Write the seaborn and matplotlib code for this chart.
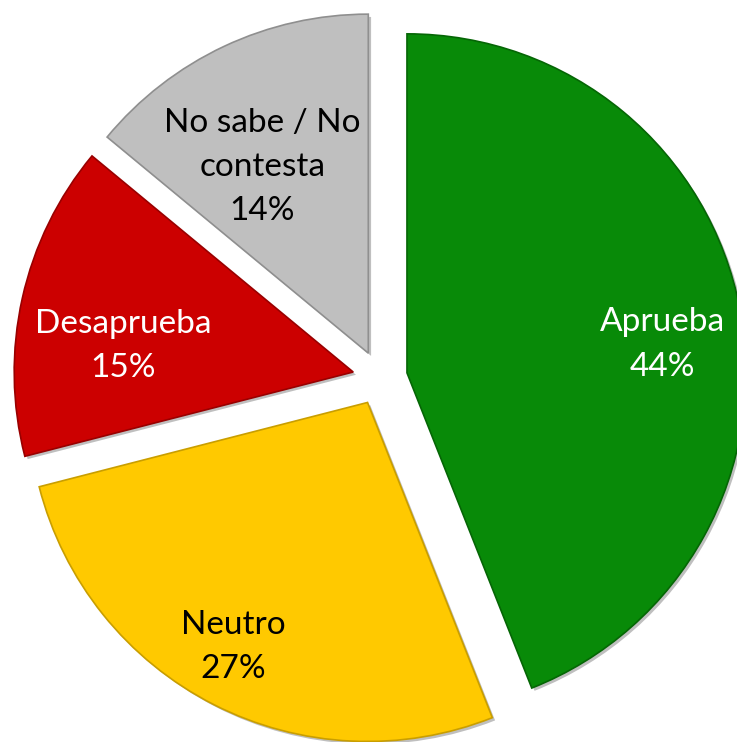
import matplotlib
matplotlib.use("Agg")
import matplotlib.pyplot as plt
import matplotlib.patheffects as pe
import seaborn as sns
import numpy as np

categories = ["Aprueba", "Neutro", "Desaprueba", "No sabe / No\ncontesta"]
values = [44, 27, 15, 14]
colors = ["#088A08", "#FFC900", "#CC0000", "#BFBFBF"]
edge_colors = ["#056605", "#C99E00", "#990000", "#8F8F8F"]
text_colors = ["white", "black", "white", "black"]

sns.set_theme(style="white")
plt.rcParams['font.family'] = ['Lato', 'DejaVu Sans']

fig = plt.figure(figsize=(7.37, 7.42), dpi=100)
ax = fig.add_axes([0, 0, 1, 1])

wedges, _ = ax.pie(values, colors=colors, startangle=90, counterclock=False,
                   explode=[0.081] * 4, radius=1.0,
                   wedgeprops=dict(linewidth=1.2))
for w, ec in zip(wedges, edge_colors):
    w.set_edgecolor(ec)
    w.set_path_effects([pe.SimplePatchShadow(offset=(2, -2), alpha=0.25, shadow_rgbFace="black"),
                        pe.Normal()])

# label placement: (radius from wedge apex, angle offset from wedge mid-angle in degrees)
label_r = [0.757, 0.823, 0.683, 0.632]
label_dang = [-4.5, -1.8, 6.1, 4.5]
for w, cat, v, tc, lr, da in zip(wedges, categories, values, text_colors, label_r, label_dang):
    ang = np.deg2rad((w.theta1 + w.theta2) / 2 + da)
    cx, cy = w.center
    ax.text(cx + lr * np.cos(ang), cy + lr * np.sin(ang), f"{cat}\n{v}%",
            ha="center", va="center", color=tc, fontsize=24, linespacing=1.6,
            multialignment="center")

R = 339
ax.set_xlim(-380 / R, (737 - 380) / R)
ax.set_ylim((378 - 742) / R, 378 / R)
ax.set_aspect("auto")
ax.axis("off")

fig.savefig("out.png", dpi=100, facecolor="white")
